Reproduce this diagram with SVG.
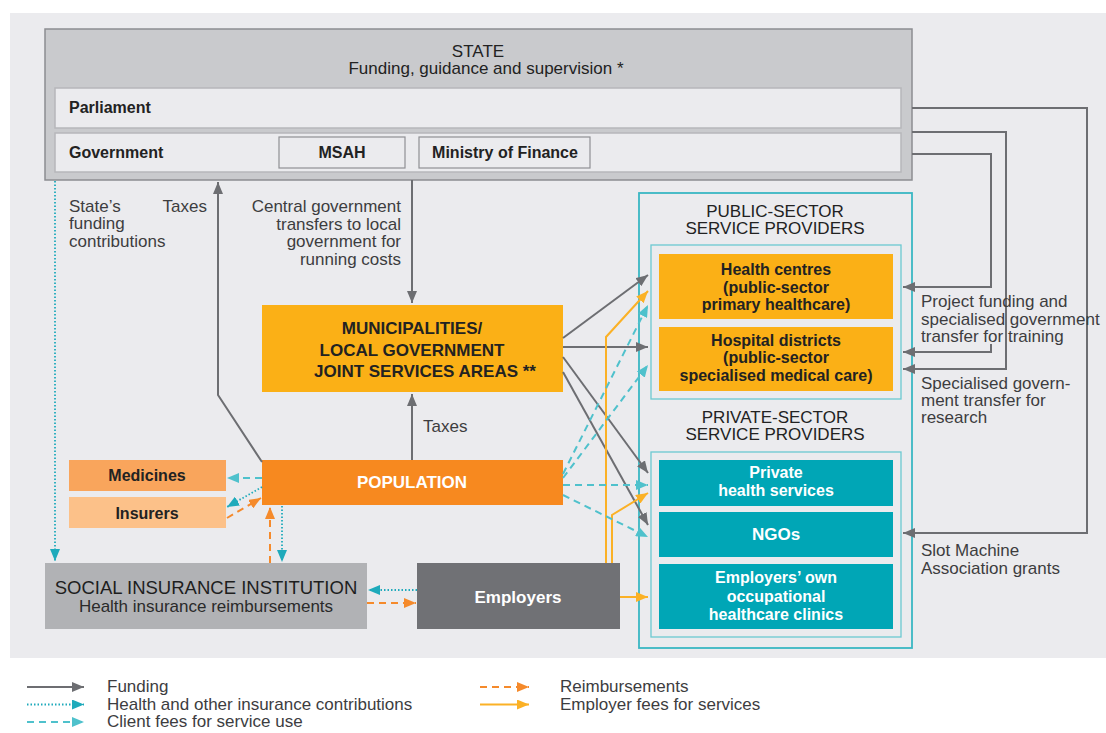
<svg xmlns="http://www.w3.org/2000/svg" width="1106" height="733" viewBox="0 0 1106 733">
<defs>
<style>
text{font-family:"Liberation Sans",Arial,sans-serif;}
.t{font-size:17px;fill:#3d3d3f;}
.b{font-size:16px;font-weight:bold;fill:#222;}
.w{font-size:16px;font-weight:bold;fill:#fff;}
.h{font-size:17px;fill:#222;}
.c{text-anchor:middle;}
.e{text-anchor:end;}
.fund{fill:none;stroke:#6d6e72;stroke-width:2;}
.dot{fill:none;stroke:#1eaabb;stroke-width:1.8;stroke-dasharray:1.5 2;}
.dash{fill:none;stroke:#4fc1cc;stroke-width:2;stroke-dasharray:7 5;}
.reim{fill:none;stroke:#f58a2b;stroke-width:2;stroke-dasharray:7 5;}
.emp{fill:none;stroke:#fbb126;stroke-width:2;}
.row{fill:#ebebee;stroke:#b6b7ba;stroke-width:1.5;}
.gor{fill:#fbb016;}
.teal{fill:#00a6b6;}
.lg{font-size:17px;fill:#3d3d3f;}
</style>
<marker id="mg" viewBox="0 0 12 10" refX="12" refY="5" markerWidth="12" markerHeight="10" markerUnits="userSpaceOnUse" orient="auto"><path d="M0,0 L12,5 L0,10 z" fill="#6d6e72"/></marker>
<marker id="mt" viewBox="0 0 12 10" refX="12" refY="5" markerWidth="12" markerHeight="10" markerUnits="userSpaceOnUse" orient="auto"><path d="M0,0 L12,5 L0,10 z" fill="#1eaabb"/></marker>
<marker id="ml" viewBox="0 0 12 10" refX="12" refY="5" markerWidth="12" markerHeight="10" markerUnits="userSpaceOnUse" orient="auto"><path d="M0,0 L12,5 L0,10 z" fill="#4fc1cc"/></marker>
<marker id="mo" viewBox="0 0 12 10" refX="12" refY="5" markerWidth="12" markerHeight="10" markerUnits="userSpaceOnUse" orient="auto"><path d="M0,0 L12,5 L0,10 z" fill="#f58a2b"/></marker>
<marker id="my" viewBox="0 0 12 10" refX="12" refY="5" markerWidth="12" markerHeight="10" markerUnits="userSpaceOnUse" orient="auto"><path d="M0,0 L12,5 L0,10 z" fill="#fbb126"/></marker>
</defs>
<rect x="0" y="0" width="1106" height="733" fill="#ffffff"/>
<rect x="10" y="13" width="1096" height="645" fill="#ebebee"/>

<g id="state">
<rect x="45" y="29" width="867" height="151" fill="#c9cacd" stroke="#8c8d91" stroke-width="1.5"/>
<text class="h c" x="478" y="57">STATE</text>
<text class="h c" x="486" y="74">Funding, guidance and supervision *</text>
</g>
<g id="parliament">
<rect class="row" x="55" y="88" width="846" height="40"/>
<text class="b" x="69" y="113">Parliament</text>
</g>
<g id="government">
<rect class="row" x="55" y="133" width="846" height="39"/>
<text class="b" x="69" y="158">Government</text>
</g>
<g id="msah">
<rect x="279" y="137" width="126" height="31" fill="#ebebee" stroke="#8f9094" stroke-width="1.2"/>
<text class="b c" x="342" y="158">MSAH</text>
</g>
<g id="finance">
<rect x="419" y="137" width="171" height="31" fill="#ebebee" stroke="#8f9094" stroke-width="1.2"/>
<text class="b c" x="505" y="158">Ministry of Finance</text>
</g>

<g id="providers">
<rect x="639" y="193" width="273" height="455" fill="none" stroke="#3ab7c3" stroke-width="1.8"/>
<rect x="651" y="245" width="250" height="154" fill="none" stroke="#6cc9d2" stroke-width="1.3"/>
<rect x="651" y="452" width="250" height="185" fill="none" stroke="#6cc9d2" stroke-width="1.3"/>
<text class="t c" x="775" y="217" style="fill:#222">PUBLIC-SECTOR</text>
<text class="t c" x="775" y="234" style="fill:#222">SERVICE PROVIDERS</text>
<text class="t c" x="775" y="423" style="fill:#222">PRIVATE-SECTOR</text>
<text class="t c" x="775" y="440" style="fill:#222">SERVICE PROVIDERS</text>
</g>
<g id="health-centres">
<rect class="gor" x="659" y="254" width="234" height="65"/>
<text class="b c" x="776" y="275">Health centres</text>
<text class="b c" x="776" y="292.5">(public-sector</text>
<text class="b c" x="776" y="310">primary healthcare)</text>
</g>
<g id="hospital-districts">
<rect class="gor" x="659" y="327" width="234" height="64"/>
<text class="b c" x="776" y="345.5">Hospital districts</text>
<text class="b c" x="776" y="363">(public-sector</text>
<text class="b c" x="776" y="380.5">specialised medical care)</text>
</g>
<g id="private-health">
<rect class="teal" x="659" y="460" width="234" height="46"/>
<text class="w c" x="776" y="478">Private</text>
<text class="w c" x="776" y="496">health services</text>
</g>
<g id="ngos">
<rect class="teal" x="659" y="512" width="234" height="45"/>
<text class="w c" x="776" y="540" style="font-size:17px">NGOs</text>
</g>
<g id="occupational">
<rect class="teal" x="659" y="564" width="234" height="65"/>
<text class="w c" x="776" y="583">Employers’ own</text>
<text class="w c" x="776" y="601.5">occupational</text>
<text class="w c" x="776" y="620">healthcare clinics</text>
</g>

<g id="municipalities">
<rect class="gor" x="262" y="305" width="301" height="87"/>
<text class="b c" x="412" y="334" style="font-size:17px">MUNICIPALITIES/</text>
<text class="b c" x="412" y="355.5" style="font-size:17px">LOCAL GOVERNMENT</text>
<text class="b c" x="425" y="377" style="font-size:17px">JOINT SERVICES AREAS **</text>
</g>
<g id="population">
<rect x="262" y="460" width="301" height="45" fill="#f7891f"/>
<text class="w c" x="412" y="488" style="font-size:17px">POPULATION</text>
</g>
<g id="medicines">
<rect x="69" y="460" width="157" height="31" fill="#f9a55c"/>
<text class="b c" x="147" y="481">Medicines</text>
</g>
<g id="insurers">
<rect x="69" y="497" width="157" height="31" fill="#fcc189"/>
<text class="b c" x="147" y="518.5">Insurers</text>
</g>
<g id="sii">
<rect x="45" y="563" width="322" height="66" fill="#b1b2b5"/>
<text class="c" x="206" y="594" style="font-size:18.5px;fill:#1e1e1e">SOCIAL INSURANCE INSTITUTION</text>
<text class="c" x="206" y="612" style="font-size:17px;fill:#2a2a2a">Health insurance reimbursements</text>
</g>
<g id="employers">
<rect x="417" y="563" width="203" height="66" fill="#707175"/>
<text class="w c" x="518" y="603" style="font-size:17px">Employers</text>
</g>

<g id="connectors">
<path class="dot" d="M55,181 V561" marker-end="url(#mt)"/>
<path class="fund" d="M262,462 L218,395 V182" marker-end="url(#mg)"/>
<path class="fund" d="M412,180 V303" marker-end="url(#mg)"/>
<path class="fund" d="M412,460 V394" marker-end="url(#mg)"/>
<path class="fund" d="M563,338 L648,275" marker-end="url(#mg)"/>
<path class="fund" d="M563,347 L648,347" marker-end="url(#mg)"/>
<path class="fund" d="M563,357 L648,473" marker-end="url(#mg)"/>
<path class="fund" d="M563,372 L648,525" marker-end="url(#mg)"/>
<path class="emp" d="M606,563 V337 L648,291" marker-end="url(#my)"/>
<path class="emp" d="M612,563 V515 L648,493" marker-end="url(#my)"/>
<path class="emp" d="M620,597 H648" marker-end="url(#my)"/>
<path class="dash" d="M563,474 L648,305" marker-end="url(#ml)"/>
<path class="dash" d="M563,478 L648,365" marker-end="url(#ml)"/>
<path class="dash" d="M563,485 H648" marker-end="url(#ml)"/>
<path class="dash" d="M563,495 L648,537" marker-end="url(#ml)"/>
<path class="dash" d="M262,478 H227" marker-end="url(#ml)"/>
<path class="dot" d="M262,487 L227,507" marker-end="url(#mt)"/>
<path class="reim" d="M227,518 L261,498" marker-end="url(#mo)"/>
<path class="reim" d="M270,563 V507" marker-end="url(#mo)"/>
<path class="dot" d="M282,506 V562" marker-end="url(#mt)"/>
<path class="dot" d="M417,590 H368" marker-end="url(#mt)"/>
<path class="reim" d="M367,603 H416" marker-end="url(#mo)"/>
<path class="fund" d="M912,108 H1087 V533 H903" marker-end="url(#mg)"/>
<path class="fund" d="M912,132 H1006 V369 H903" marker-end="url(#mg)"/>
<path class="fund" d="M912,154 H991 V287 H903" marker-end="url(#mg)"/>
<path class="fund" d="M991,344 V352 H903" marker-end="url(#mg)"/>
</g>

<g id="labels">
<text class="t" x="69" y="212">State’s</text>
<text class="t" x="69" y="229">funding</text>
<text class="t" x="69" y="246.5">contributions</text>
<text class="t e" x="207" y="212">Taxes</text>
<text class="t e" x="401" y="212">Central government</text>
<text class="t e" x="401" y="229.5">transfers to local</text>
<text class="t e" x="401" y="247">government for</text>
<text class="t e" x="401" y="264.5">running costs</text>
<text class="t" x="423" y="432">Taxes</text>
<text class="t" x="921" y="307">Project funding and</text>
<text class="t" x="921" y="324.5">specialised government</text>
<text class="t" x="921" y="342">transfer for training</text>
<text class="t" x="921" y="389">Specialised govern-</text>
<text class="t" x="921" y="406">ment transfer for</text>
<text class="t" x="921" y="423">research</text>
<text class="t" x="921" y="556">Slot Machine</text>
<text class="t" x="921" y="573.5">Association grants</text>
</g>

<g id="legend">
<path class="fund" d="M27,687 H84" marker-end="url(#mg)"/>
<path class="dot" d="M27,704.5 H84" marker-end="url(#mt)"/>
<path class="dash" d="M27,722 H84" marker-end="url(#ml)"/>
<path class="reim" d="M480,687 H529" marker-end="url(#mo)"/>
<path class="emp" d="M480,704.5 H529" marker-end="url(#my)"/>
<text class="lg" x="107" y="692">Funding</text>
<text class="lg" x="107" y="709.5">Health and other insurance contributions</text>
<text class="lg" x="107" y="727">Client fees for service use</text>
<text class="lg" x="560" y="692">Reimbursements</text>
<text class="lg" x="560" y="709.5">Employer fees for services</text>
</g>
</svg>
